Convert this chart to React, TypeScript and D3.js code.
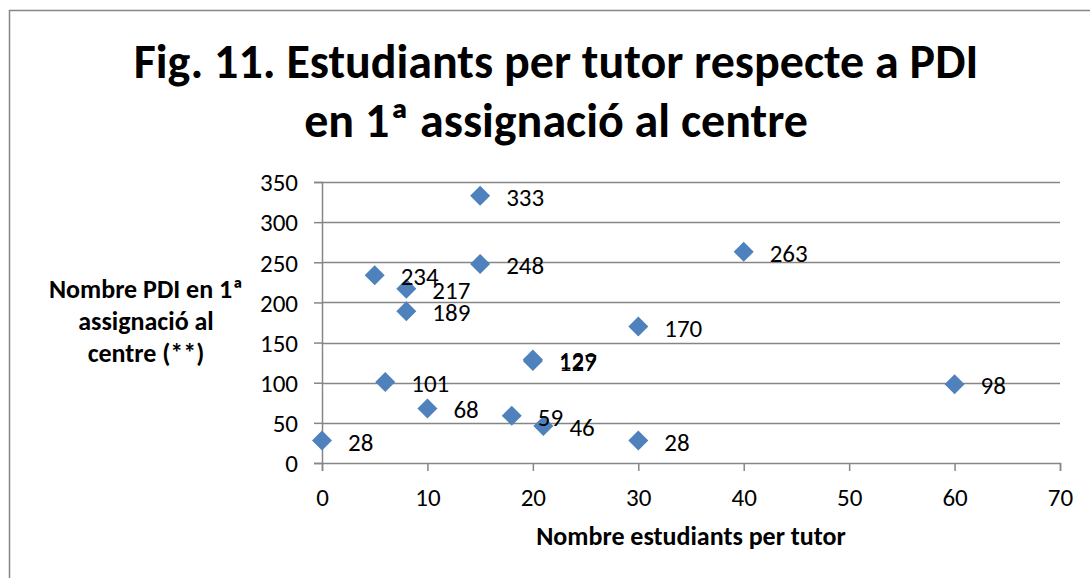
import * as d3 from "d3";
import React, { useEffect, useRef } from "react";

const xValues = [0, 5, 8, 8, 15, 15, 40, 30, 20, 20, 6, 10, 18, 21, 30, 60];
const yValues = [28, 234, 217, 189, 333, 248, 263, 170, 127, 129, 101, 68, 59, 46, 28, 98];
const xTicks = [0, 10, 20, 30, 40, 50, 60, 70];
const yTicks = [0, 50, 100, 150, 200, 250, 300, 350];
const titleLines = ["Fig. 11. Estudiants per tutor respecte a PDI", "en 1ª assignació al centre"];
const yTitleLines = ["Nombre PDI en 1ª", "assignació al", "centre (**)"];
const xTitle = "Nombre estudiants per tutor";

const FONT = "Carlito, Calibri, 'Liberation Sans Narrow', 'Liberation Sans', sans-serif";

export default function App() {
    const svgRef = useRef<SVGSVGElement | null>(null);

    useEffect(() => {
        if (!svgRef.current) return;
        const svg = d3.select(svgRef.current);
        svg.selectAll("*").remove();

        const width = 1090;
        const height = 578;

        // outer chart border (right/bottom edges fall outside the picture)
        svg.append("rect")
            .attr("x", 9.5).attr("y", 10.5)
            .attr("width", 1100).attr("height", 600)
            .attr("fill", "white")
            .attr("stroke", "#868686")
            .attr("stroke-width", 1.5);

        const x = d3.scaleLinear().domain([0, 70]).range([322, 1060]);
        const y = d3.scaleLinear().domain([0, 350]).range([463, 182]);

        // title
        svg.append("g").selectAll("text")
            .data(titleLines)
            .enter()
            .append("text")
            .attr("x", 556)
            .attr("y", (d, i) => 78 + i * 59)
            .attr("text-anchor", "middle")
            .style("font-family", FONT)
            .style("font-size", "48px")
            .style("font-weight", "bold")
            .text((d) => d);

        // horizontal gridlines
        svg.append("g").selectAll("line")
            .data(yTicks.filter((t) => t > 0))
            .enter()
            .append("line")
            .attr("x1", x(0)).attr("x2", x(70))
            .attr("y1", (d) => Math.round(y(d)) + 0.5)
            .attr("y2", (d) => Math.round(y(d)) + 0.5)
            .attr("stroke", "#868686")
            .attr("stroke-width", 1.5);

        // y axis
        const yAxis = svg.append("g")
            .attr("transform", `translate(${x(0)},0)`)
            .call(d3.axisLeft(y).tickValues(yTicks).tickSize(8).tickPadding(16));
        // x axis
        const xAxis = svg.append("g")
            .attr("transform", `translate(0,${y(0)})`)
            .call(d3.axisBottom(x).tickValues(xTicks).tickSize(8).tickPadding(17));

        [xAxis, yAxis].forEach((ax) => {
            ax.selectAll("path, line").attr("stroke", "#868686").attr("stroke-width", 1.5);
            ax.selectAll("text")
                .style("font-family", FONT)
                .style("font-size", "25px")
                .attr("fill", "black");
        });
        yAxis.selectAll("text").attr("dy", "0.35em");

        // axis titles
        svg.append("text")
            .attr("x", 691).attr("y", 545)
            .attr("text-anchor", "middle")
            .style("font-family", FONT)
            .style("font-size", "26px")
            .style("font-weight", "bold")
            .text(xTitle);

        svg.append("g").selectAll("text")
            .data(yTitleLines)
            .enter()
            .append("text")
            .attr("x", 146)
            .attr("y", (d, i) => 298 + i * 32)
            .attr("text-anchor", "middle")
            .style("font-family", FONT)
            .style("font-size", "26px")
            .style("font-weight", "bold")
            .text((d) => d);

        // points
        const points = xValues.map((v, i) => ({ x: v, y: yValues[i] }));
        const diamond = d3.symbol().type(d3.symbolSquare).size(200);

        svg.append("g").selectAll("path")
            .data(points)
            .enter()
            .append("path")
            .attr("d", diamond)
            .attr("transform", (d) => `translate(${x(d.x)},${y(d.y)}) rotate(45)`)
            .attr("fill", "#4F81BD");

        svg.append("g").selectAll("text")
            .data(points)
            .enter()
            .append("text")
            .attr("x", (d) => x(d.x) + 26)
            .attr("y", (d) => y(d.y) + 10)
            .style("font-family", FONT)
            .style("font-size", "25px")
            .attr("fill", "black")
            .text((d) => d.y);

        svg.attr("width", width).attr("height", height);
    }, []);

    return (
        <svg
            ref={svgRef}
            style={{ position: "absolute", left: 0, top: 0, display: "block" }}
        />
    );
}
